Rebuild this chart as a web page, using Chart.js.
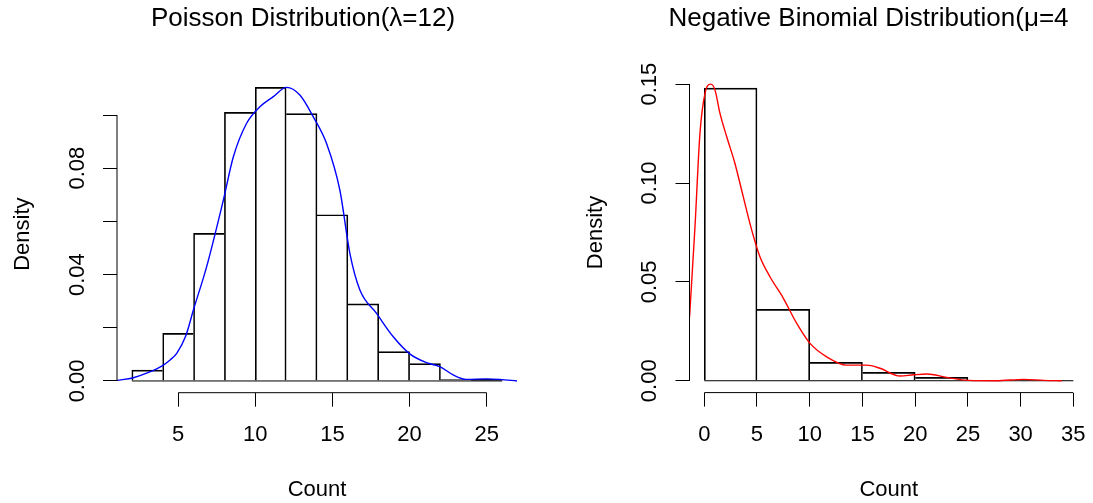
<!DOCTYPE html>
<html lang="en">
<head>
<meta charset="UTF-8">
<title>Poisson vs Negative Binomial</title>
<script src="https://cdn.jsdelivr.net/npm/chart.js"></script>
<style>
  body { margin: 0; background: #fff; overflow: hidden; }
  canvas { position: absolute; top: 0; }
  #poisson { left: 0; }
  #negbin { left: 546px; }
</style>
</head>
<body>
<canvas id="poisson" width="606" height="503"></canvas>
<canvas id="negbin" width="645" height="503"></canvas>
<script>
// Poisson(lambda=12) sample: histogram (density) + kernel density curve
const poisBreaks = [2, 4, 6, 8, 10, 12, 14, 16, 18, 20, 22, 24, 26];
const poisDensity = [0.0041, 0.0179, 0.0555, 0.101, 0.1104, 0.1005, 0.0625, 0.029, 0.011, 0.0065, 0.0005, 0.0006];
const poisCurveX = [1.04, 2.1, 3.0, 3.94, 4.5, 4.91, 5.5, 5.99, 6.85, 7.93, 8.58, 9.44, 10.3, 11.17, 12.03,
  12.89, 13.75, 14.62, 15.48, 16.13, 16.78, 17.86, 18.93, 20.01, 21.09, 21.95, 22.82, 23.68, 24.98, 25.84, 26.96];
const poisCurveY = [0.0002, 0.0012, 0.003, 0.0056, 0.008, 0.0104, 0.017, 0.0267, 0.043, 0.068, 0.0843, 0.0969, 0.1031, 0.1069, 0.1104,
  0.1075, 0.0994, 0.0893, 0.0718, 0.048, 0.0342, 0.0254, 0.0167, 0.0102, 0.0069, 0.0054, 0.0023, 0.0006, 0.0008, 0.0006, 0.0];
const poisXTicks = [5, 10, 15, 20, 25];
const poisYTicks = [0, 0.02, 0.04, 0.06, 0.08, 0.10];
const poisYLabels = ['0.00', '', '0.04', '', '0.08', ''];

// Negative binomial (mu=4) sample
const nbBreaks = [0, 5, 10, 15, 20, 25, 30, 35];
const nbDensity = [0.148, 0.0361, 0.0093, 0.0042, 0.0017, 0, 0.0002];
const nbCurveX = [-1.4, -0.88, -0.41, 0.07, 0.61, 1.02, 1.49, 2.13, 2.91, 3.7, 4.5, 5.28, 6.23, 7.5, 8.77, 10.03,
  11.61, 13.5, 15.4, 16.67, 18.57, 19.83, 21.1, 23.0, 25.05, 27.7, 30.3, 32.2, 33.9];
const nbCurveY = [0.032, 0.0779, 0.125, 0.1453, 0.15, 0.147, 0.1352, 0.1234, 0.1099, 0.093, 0.0762, 0.0627, 0.0526, 0.0417, 0.029, 0.0189,
  0.0121, 0.0079, 0.0079, 0.0063, 0.0024, 0.003, 0.0034, 0.0017, 0.0002, 0.0, 0.0007, 0.0002, 0.0];
const nbXTicks = [0, 5, 10, 15, 20, 25, 30, 35];
const nbYTicks = [0, 0.05, 0.10, 0.15];
const nbYLabels = ['0.00', '0.05', '0.10', '0.15'];

Chart.defaults.font.family = "'Liberation Sans', Arial, sans-serif";
Chart.defaults.font.size = 22;
Chart.defaults.color = '#000';

// base-R look: axis lines run only from first to last tick, rect bottoms form a baseline
const rAxes = {
  id: 'rAxes',
  beforeDatasetsDraw(chart, args, o) {
    const { ctx, scales: { x, y } } = chart;
    const y0 = y.getPixelForValue(0);
    ctx.save();
    ctx.strokeStyle = '#000';
    ctx.lineWidth = 1;
    ctx.beginPath();
    ctx.moveTo(x.getPixelForValue(o.breaks[0]), y0);
    ctx.lineTo(x.getPixelForValue(o.breaks[o.breaks.length - 1]), y0);
    ctx.stroke();
    ctx.restore();
  },
  afterDraw(chart, args, o) {
    const { ctx, scales: { x, y } } = chart;
    ctx.save();
    ctx.strokeStyle = '#000';
    ctx.lineWidth = 1;
    ctx.beginPath();
    ctx.moveTo(x.getPixelForValue(o.xTicks[0]), x.top);
    ctx.lineTo(x.getPixelForValue(o.xTicks[o.xTicks.length - 1]), x.top);
    ctx.moveTo(y.right, y.getPixelForValue(o.yTicks[0]));
    ctx.lineTo(y.right, y.getPixelForValue(o.yTicks[o.yTicks.length - 1]));
    ctx.stroke();
    ctx.restore();
  }
};

function histPanel(id, p) {
  const bars = p.density.map((d, i) => ({ x: (p.breaks[i] + p.breaks[i + 1]) / 2, y: d }));
  const curve = p.curveX.map((x, i) => ({ x: x, y: p.curveY[i] }));
  const n = p.density.length;
  // each shared edge is drawn once, by the taller neighbour
  const edges = (c) => {
    const i = c.dataIndex, h = p.density;
    return {
      top: 1, bottom: 0,
      left: (i === 0 || h[i] >= h[i - 1]) ? 1 : 0,
      right: (i === n - 1 || h[i] > h[i + 1]) ? 1 : 0
    };
  };
  const canvas = document.getElementById(id);
  return new Chart(canvas, {
    type: 'bar',
    data: {
      datasets: [
        { type: 'line', data: curve, borderColor: p.color, borderWidth: 1.4, pointRadius: 0,
          cubicInterpolationMode: 'monotone', order: 0 },
        { type: 'bar', data: bars, backgroundColor: 'rgba(0,0,0,0)', borderColor: '#000',
          borderWidth: edges, borderSkipped: false, barPercentage: 1, categoryPercentage: 1, order: 1 }
      ]
    },
    options: {
      responsive: false,
      animation: false,
      layout: { autoPadding: false, padding: 0 },
      plugins: {
        legend: { display: false },
        tooltip: { enabled: false },
        title: { display: true, text: p.title, color: '#000',
          font: { size: 26, weight: 'normal' }, padding: { top: 3.2, bottom: p.titleGap } },
        rAxes: { xTicks: p.xTicks, yTicks: p.yTicks, breaks: p.breaks }
      },
      scales: {
        x: {
          type: 'linear', min: p.xMin, max: p.xMax, offset: false,
          afterBuildTicks: s => { s.ticks = p.xTicks.map(v => ({ value: v })); },
          afterFit: s => { s.height = canvas.height - p.plotBottom; },
          grid: { offset: false, drawOnChartArea: false, tickLength: 14, color: '#000' },
          border: { display: false },
          ticks: { padding: 15, maxRotation: 0, autoSkip: false, callback: v => String(v) },
          title: { display: true, text: 'Count', padding: 0 }
        },
        y: {
          type: 'linear', min: p.yMin, max: p.yMax,
          afterBuildTicks: s => { s.ticks = p.yTicks.map(v => ({ value: v })); },
          afterFit: s => { s.width = p.plotLeft; },
          grid: { drawOnChartArea: false, tickLength: 14, color: '#000' },
          border: { display: false },
          ticks: { padding: 4, minRotation: 90, maxRotation: 90, crossAlign: 'center', autoSkip: false,
            callback: (v, i) => p.yLabels[i] },
          title: { display: true, text: 'Density', padding: { top: p.yTitlePad, bottom: 0 } }
        },
        // empty right-hand margin, so the title centres where R put it
        spacer: {
          type: 'linear', position: 'right',
          afterFit: s => { s.width = canvas.width - p.plotRight; },
          grid: { display: false }, border: { display: false }, ticks: { display: false }
        }
      }
    },
    plugins: [rAxes]
  });
}

histPanel('poisson', {
  title: 'Poisson Distribution(\u03bb=12)', color: '#0000ff',
  breaks: poisBreaks, density: poisDensity, curveX: poisCurveX, curveY: poisCurveY,
  xTicks: poisXTicks, yTicks: poisYTicks, yLabels: poisYLabels,
  xMin: 1.04, xMax: 26.96, yMin: -0.004416, yMax: 0.114816,
  plotLeft: 117, plotRight: 517, plotBottom: 392.7, titleGap: 41.2, yTitlePad: 10.1
});

histPanel('negbin', {
  title: 'Negative Binomial Distribution(\u03bc=4', color: '#ff0000',
  breaks: nbBreaks, density: nbDensity, curveX: nbCurveX, curveY: nbCurveY,
  xTicks: nbXTicks, yTicks: nbYTicks, yLabels: nbYLabels,
  xMin: -1.4, xMax: 36.4, yMin: -0.006, yMax: 0.156,
  plotLeft: 143.5, plotRight: 542.1, plotBottom: 392.6, titleGap: 37.9, yTitlePad: 36.6
});
</script>
</body>
</html>
